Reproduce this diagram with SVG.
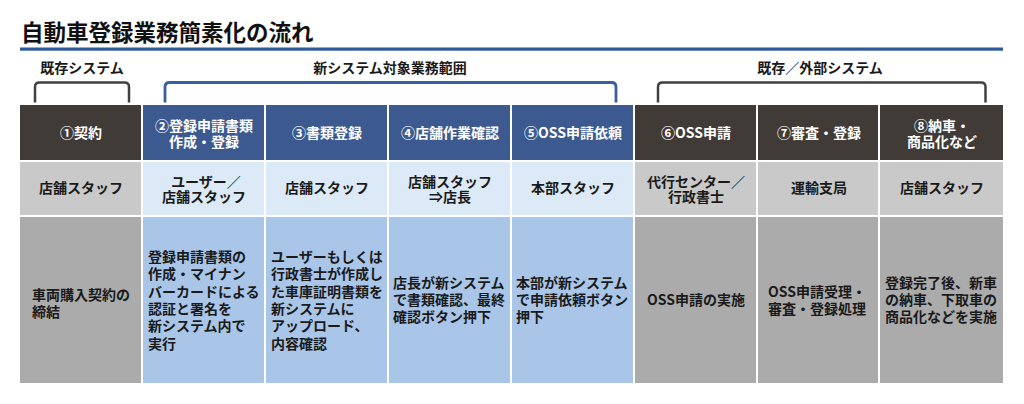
<svg xmlns="http://www.w3.org/2000/svg" width="1024" height="404" viewBox="0 0 1024 404">
<style>
text{font-family:"Noto Sans CJK JP","Noto Sans",sans-serif;font-weight:bold;}
.title{font-size:22.5px;fill:#111;}
.lbl{font-size:14px;fill:#1a1a1a;text-anchor:middle;}
.hd{font-size:14px;fill:#fff;text-anchor:middle;}
.rl{font-size:14px;fill:#1a1a1a;text-anchor:middle;}
.ds{font-size:14px;fill:#1a1a1a;}
.hdDark{fill:#403b37;}
.hdBlue{fill:#3c5a8f;}
.rlGray{fill:#c9c9c9;}
.rlBlue{fill:#dce9f6;}
.dsGray{fill:#ababab;}
.dsBlue{fill:#a9c6e9;}
.brGray{fill:none;stroke:#404040;stroke-width:2.5;stroke-linejoin:round;}
.brBlue{fill:none;stroke:#3a5f9e;stroke-width:2.8;stroke-linejoin:round;}
</style>
<rect width="1024" height="404" fill="#fff"/>
<text class="title" x="21" y="41">自動車登録業務簡素化の流れ</text>
<rect x="20" y="47.5" width="983" height="3.2" fill="#2f5a9a"/>

<g id="brackets">
<text class="lbl" x="82" y="73">既存システム</text>
<path class="brGray" d="M35,102.5 V87 Q35,82.5 39.5,82.5 H124.5 Q129,82.5 129,87 V102.5"/>
<text class="lbl" x="390" y="73">新システム対象業務範囲</text>
<path class="brBlue" d="M165,102.5 V87 Q165,82.5 169.5,82.5 H611.5 Q616,82.5 616,87 V102.5"/>
<text class="lbl" x="820" y="73">既存／外部システム</text>
<path class="brGray" d="M658,102.5 V87 Q658,82.5 662.5,82.5 H981 Q985.5,82.5 985.5,87 V102.5"/>
</g>

<g id="step1">
<rect class="hdDark" x="20" y="105" width="121" height="55"/>
<text class="hd" x="81" y="138">①契約</text>
<rect class="rlGray" x="20" y="162" width="121" height="53"/>
<text class="rl" x="81" y="193">店舗スタッフ</text>
<rect class="dsGray" x="20" y="217" width="121" height="166"/>
<text class="ds" x="32" y="300">車両購入契約の<tspan x="32" dy="17">締結</tspan></text>
</g>

<g id="step2">
<rect class="hdBlue" x="143" y="105" width="121" height="55"/>
<text class="hd" x="204" y="131">②登録申請書類<tspan x="204" dy="16">作成・登録</tspan></text>
<rect class="rlBlue" x="143" y="162" width="121" height="53"/>
<text class="rl" x="206" y="187">ユーザー／<tspan x="204" dy="15">店舗スタッフ</tspan></text>
<rect class="dsBlue" x="143" y="217" width="121" height="166"/>
<text class="ds" x="148" y="262">登録申請書類の<tspan x="148" dy="17.3">作成・マイナン</tspan><tspan x="148" dy="17.3">バーカードによる</tspan><tspan x="148" dy="17.3">認証と署名を</tspan><tspan x="148" dy="17.3">新システム内で</tspan><tspan x="148" dy="17.3">実行</tspan></text>
</g>

<g id="step3">
<rect class="hdBlue" x="266" y="105" width="121" height="55"/>
<text class="hd" x="327" y="138">③書類登録</text>
<rect class="rlBlue" x="266" y="162" width="121" height="53"/>
<text class="rl" x="327" y="193">店舗スタッフ</text>
<rect class="dsBlue" x="266" y="217" width="121" height="166"/>
<text class="ds" x="271" y="262">ユーザーもしくは<tspan x="271" dy="17.3">行政書士が作成し</tspan><tspan x="271" dy="17.3">た車庫証明書類を</tspan><tspan x="271" dy="17.3">新システムに</tspan><tspan x="271" dy="17.3">アップロード、</tspan><tspan x="271" dy="17.3">内容確認</tspan></text>
</g>

<g id="step4">
<rect class="hdBlue" x="389" y="105" width="121" height="55"/>
<text class="hd" x="450" y="138">④店舗作業確認</text>
<rect class="rlBlue" x="389" y="162" width="121" height="53"/>
<text class="rl" x="450" y="187">店舗スタッフ<tspan x="450" dy="15">⇒店長</tspan></text>
<rect class="dsBlue" x="389" y="217" width="121" height="166"/>
<text class="ds" x="393" y="288">店長が新システム<tspan x="393" dy="17">で書類確認、最終</tspan><tspan x="393" dy="17">確認ボタン押下</tspan></text>
</g>

<g id="step5">
<rect class="hdBlue" x="512" y="105" width="121" height="55"/>
<text class="hd" x="573" y="138">⑤OSS申請依頼</text>
<rect class="rlBlue" x="512" y="162" width="121" height="53"/>
<text class="rl" x="573" y="193">本部スタッフ</text>
<rect class="dsBlue" x="512" y="217" width="121" height="166"/>
<text class="ds" x="516" y="288">本部が新システム<tspan x="516" dy="17">で申請依頼ボタン</tspan><tspan x="516" dy="17">押下</tspan></text>
</g>

<g id="step6">
<rect class="hdDark" x="635" y="105" width="121" height="55"/>
<text class="hd" x="696" y="138">⑥OSS申請</text>
<rect class="rlGray" x="635" y="162" width="121" height="53"/>
<text class="rl" x="696" y="187">代行センター／<tspan x="696" dy="15">行政書士</tspan></text>
<rect class="dsGray" x="635" y="217" width="121" height="166"/>
<text class="ds" x="696" y="305" text-anchor="middle">OSS申請の実施</text>
</g>

<g id="step7">
<rect class="hdDark" x="758" y="105" width="120" height="55"/>
<text class="hd" x="819" y="138">⑦審査・登録</text>
<rect class="rlGray" x="758" y="162" width="120" height="53"/>
<text class="rl" x="819" y="193">運輸支局</text>
<rect class="dsGray" x="758" y="217" width="120" height="166"/>
<text class="ds" x="768" y="297">OSS申請受理・<tspan x="768" dy="17">審査・登録処理</tspan></text>
</g>

<g id="step8">
<rect class="hdDark" x="880" y="105" width="123" height="55"/>
<text class="hd" x="942" y="131">⑧納車・<tspan x="942" dy="16">商品化など</tspan></text>
<rect class="rlGray" x="880" y="162" width="123" height="53"/>
<text class="rl" x="942" y="193">店舗スタッフ</text>
<rect class="dsGray" x="880" y="217" width="123" height="166"/>
<text class="ds" x="885" y="288">登録完了後、新車<tspan x="885" dy="17">の納車、下取車の</tspan><tspan x="885" dy="17">商品化などを実施</tspan></text>
</g>
</svg>
